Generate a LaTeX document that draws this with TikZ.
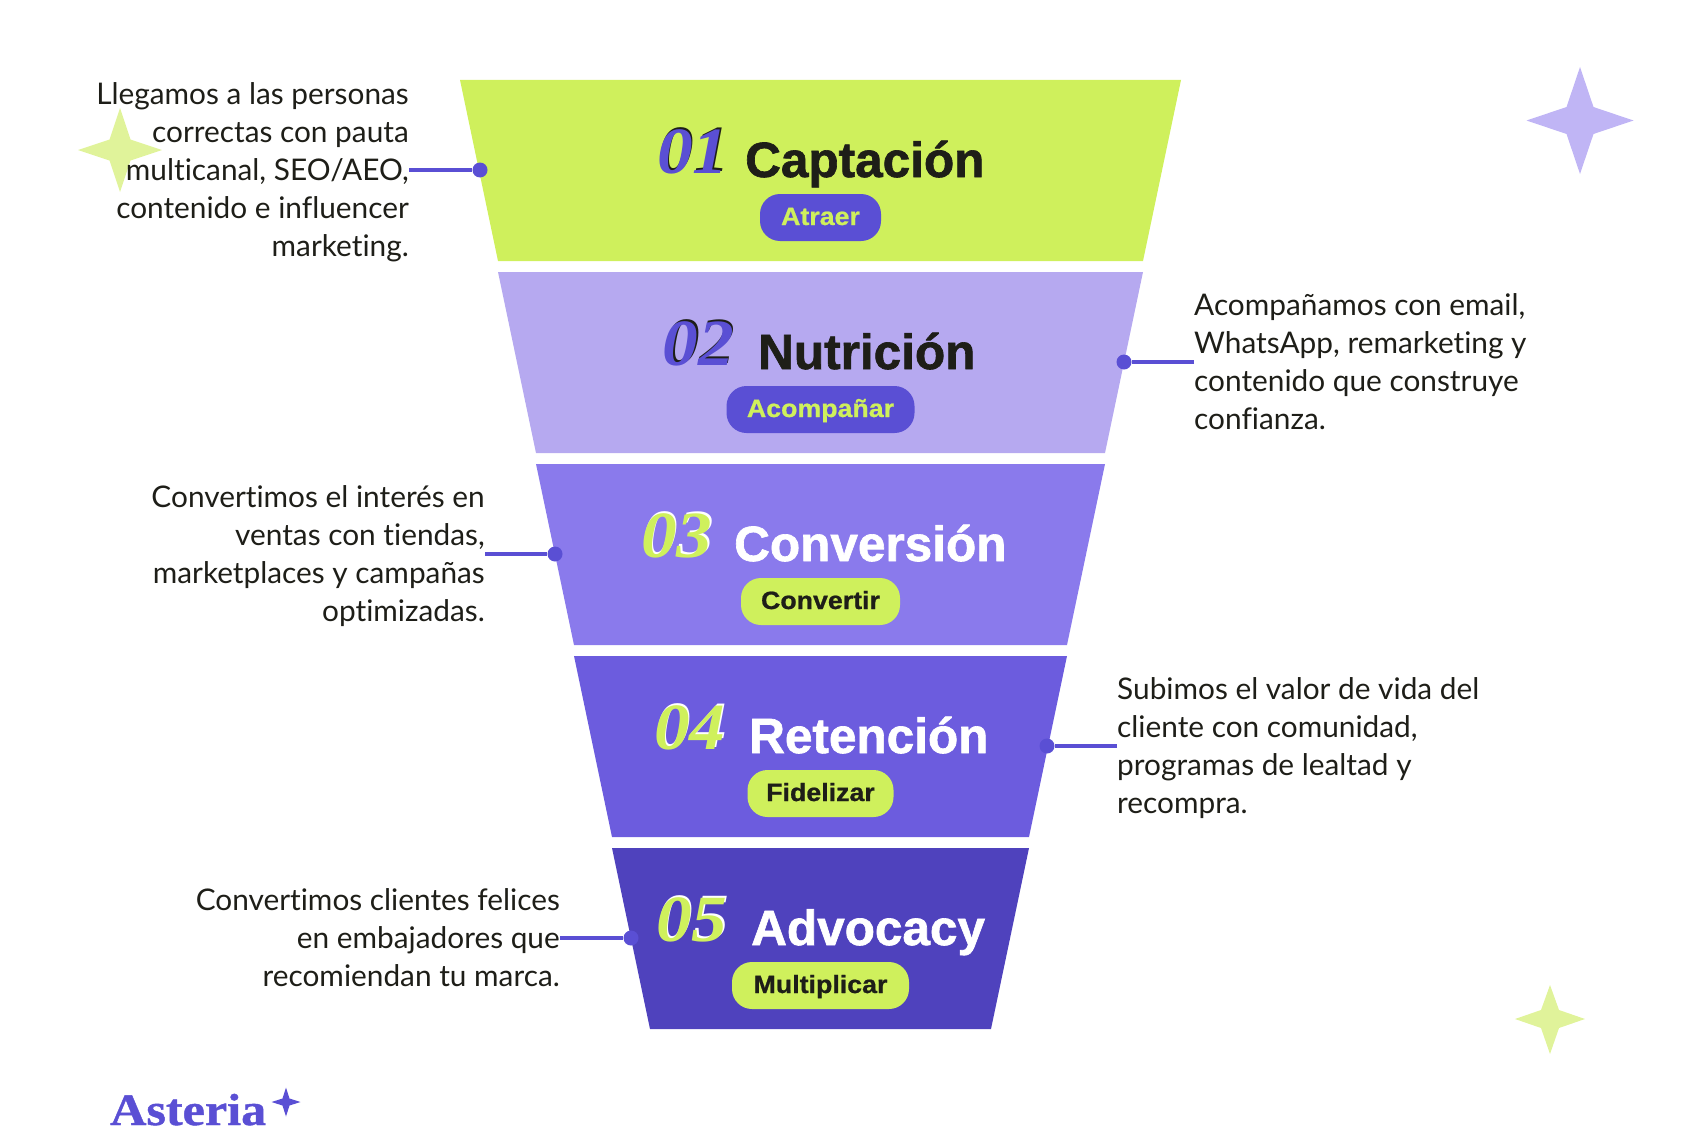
\documentclass[tikz,border=0pt]{standalone}
\usepackage{fontspec}
\setmainfont[Ligatures=NoCommon]{Lato}
\newfontfamily\headfont[FakeBold=1.3]{Liberation Sans Bold}
\newfontfamily\pillfont[FakeStretch=1.07,FakeBold=0.8]{Liberation Sans Bold}
\newfontfamily\numfont[FakeStretch=1.08]{Liberation Serif Bold Italic}
\newfontfamily\brandfont[FakeStretch=1.115,FakeBold=1]{Liberation Serif Bold}
\definecolor{limeseg}{HTML}{CFF05C}
\definecolor{lilacseg}{HTML}{B6A9F0}
\definecolor{violetseg}{HTML}{8A7AEC}
\definecolor{purpleseg}{HTML}{6C5CDE}
\definecolor{deepseg}{HTML}{4F42BD}
\definecolor{accent}{HTML}{5A4FD4}
\definecolor{ink}{HTML}{1E1E18}
\definecolor{starlilac}{HTML}{C0B5F5}
\definecolor{starlime}{HTML}{E0F39A}

\begin{document}
\begin{tikzpicture}[x=1pt, y=-1pt,
        desc/.style={inner sep=0pt, text=ink, font=\fontsize{29.8}{38}\selectfont},
        dot/.style={circle, fill=accent, inner sep=0pt, minimum size=15pt},
        link/.style={accent, line width=3.2pt},
        num/.style={anchor=base west, inner sep=0pt, font=\numfont\fontsize{66}{66}\selectfont},
        head/.style={anchor=base west, inner sep=0pt, font=\headfont\fontsize{49.5}{49.5}\selectfont},
        pill/.style={rounded corners=20pt, inner sep=0pt, text height=20pt, text depth=5pt, minimum height=47pt, font=\pillfont\fontsize{25}{25}\selectfont}]

        \useasboundingbox (0,0) rectangle (1700,1140);

        % stars
        \fill[starlime] (120,108) -- (130.5,139.5) -- (162,150) -- (130.5,160.5) -- (120,192) -- (109.5,160.5) -- (78,150) -- (109.5,139.5) -- cycle;
        \fill[starlilac] (1580,67) -- (1593.5,107) -- (1633.5,120.5) -- (1593.5,134) -- (1580,174) -- (1566.5,134) -- (1526.5,120.5) -- (1566.5,107) -- cycle;
        \fill[starlime] (1550,985) -- (1559,1010) -- (1585,1019) -- (1559,1028) -- (1550,1054) -- (1541,1028) -- (1515,1019) -- (1541,1010) -- cycle;

        % funnel
        \fill[limeseg] (460,80) -- (1181,80) -- (1143,261) -- (498,261) -- cycle;
        \fill[lilacseg] (498,272) -- (1143,272) -- (1105,453) -- (536,453) -- cycle;
        \fill[violetseg] (536,464) -- (1105,464) -- (1067,645) -- (574,645) -- cycle;
        \fill[purpleseg] (574,656) -- (1067,656) -- (1029,837) -- (612,837) -- cycle;
        \fill[deepseg] (612,848) -- (1029,848) -- (991,1029) -- (650,1029) -- cycle;

        % numbers
        \node[num, text=ink] (num1s) at (658.5,171.5) {01};
        \node[num, text=accent] (num1) at (657,173) {01};
        \node[num, text=ink] (num2s) at (664,363.5) {02};
        \node[num, text=accent] (num2) at (662.5,365) {02};
        \node[num, text=white] (num3s) at (642.5,555.5) {03};
        \node[num, text=limeseg] (num3) at (641,557) {03};
        \node[num, text=white] (num4s) at (655.5,747.5) {04};
        \node[num, text=limeseg] (num4) at (654,749) {04};
        \node[num, text=white] (num5s) at (657.5,939.5) {05};
        \node[num, text=limeseg] (num5) at (656,941) {05};

        % titles
        \node[head, text=ink] (head1) at (745,177) {Captación};
        \node[head, text=ink] (head2) at (758,369) {Nutrición};
        \node[head, text=white] (head3) at (734,561) {Conversión};
        \node[head, text=white] (head4) at (749,753) {Retención};
        \node[head, text=white] (head5) at (751,945) {Advocacy};

        % pills
        \node[pill, fill=accent, text=limeseg, minimum width=121pt] (pill1) at (820.5,217.5) {Atraer};
        \node[pill, fill=accent, text=limeseg, minimum width=188pt] (pill2) at (820.5,409.5) {Acompañar};
        \node[pill, fill=limeseg, text=ink, minimum width=159pt] (pill3) at (820.5,601.5) {Convertir};
        \node[pill, fill=limeseg, text=ink, minimum width=146pt] (pill4) at (820.5,793.5) {Fidelizar};
        \node[pill, fill=limeseg, text=ink, minimum width=177pt] (pill5) at (820.5,985.5) {Multiplicar};

        % side texts
        \node[desc, anchor=east, align=right] (txt1) at (409,170) {Llegamos a las personas\\correctas con pauta\\multicanal, SEO/AEO,\\contenido e influencer\\\smash{marketing.}};
        \node[desc, anchor=west, align=left] (txt2) at (1194,362) {Acompañamos con email,\\WhatsApp, remarketing y\\contenido que construye\\confianza.};
        \node[desc, anchor=east, align=right] (txt3) at (485,554) {Convertimos el interés en\\ventas con tiendas,\\marketplaces y campañas\\\smash{optimizadas.}};
        \node[desc, anchor=west, align=left] (txt4) at (1117,746) {Subimos el valor de vida del\\cliente con comunidad,\\programas de lealtad y\\\smash{recompra.}};
        \node[desc, anchor=east, align=right] (txt5) at (560,938) {Convertimos clientes felices\\en embajadores que\\recomiendan tu marca.};

        % dots
        \node[dot] (dot1) at (480,170) {};
        \node[dot] (dot2) at (1124,362) {};
        \node[dot] (dot3) at (555,554) {};
        \node[dot] (dot4) at (1047,746) {};
        \node[dot] (dot5) at (631,938) {};

        \path[link]
            (txt1.east) edge (dot1)
            (txt2.west) edge (dot2)
            (txt3.east) edge (dot3)
            (txt4.west) edge (dot4)
            (txt5.east) edge (dot5)
            ;

        % brand
        \node[anchor=base west, inner sep=0pt, text=accent, font=\brandfont\fontsize{45}{45}\selectfont] (brand) at (110,1125) {Asteria};
        \fill[accent] (286,1087.5) -- (289.5,1098.5) -- (300.5,1102) -- (289.5,1105.5) -- (286,1116.5) -- (282.5,1105.5) -- (271.5,1102) -- (282.5,1098.5) -- cycle;
\end{tikzpicture}
\end{document}
